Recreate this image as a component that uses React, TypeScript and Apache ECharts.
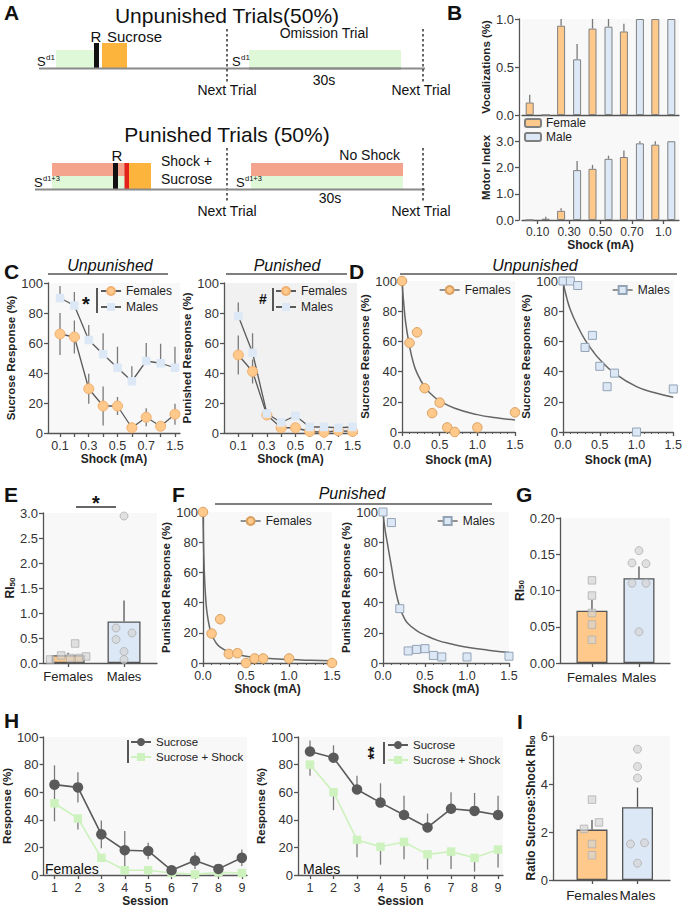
import React, { useEffect, useRef } from 'react';
import * as echarts from 'echarts';

// ---------------- DATA ----------------
const B_SHOCK = ['0.10', '0.30', '0.50', '0.70', '1.0'];
const B_VOC_F = [0.13, 0.93, 0.9, 0.87, 1.0];
const B_VOC_F_ERR = [0.08, 0.07, 0.1, 0.08, 0];
const B_VOC_M = [0, 0.58, 0.92, 1.0, 1.0];
const B_VOC_M_ERR = [0, 0.16, 0.08, 0, 0];
const B_MOT_F = [0, 0.35, 1.95, 2.4, 2.87];
const B_MOT_F_ERR = [0, 0.1, 0.15, 0.25, 0.13];
const B_MOT_M = [0.05, 1.9, 2.33, 2.92, 3.0];
const B_MOT_M_ERR = [0.07, 0.35, 0.12, 0.08, 0];

const C_SHOCK = ['0.1', '0.2', '0.3', '0.4', '0.5', '0.6', '0.7', '1.0', '1.5'];
const C_UNP_F = [66, 64, 29.5, 18, 18, 3.5, 10.5, 4.5, 12.5];
const C_UNP_F_ERR = [14, 11, 10, 13, 6, 2, 6, 3, 7];
const C_UNP_M = [90, 85, 62, 52.5, 43.5, 34.5, 48, 46.5, 43.5];
const C_UNP_M_ERR = [8, 9, 10, 14, 14, 10, 12, 13, 14];
const C_PUN_F = [52, 41, 12, 3.5, 3.5, 1, 0.5, 1.5, 1];
const C_PUN_F_ERR = [13, 8, 2, 1, 1, 0.5, 0.5, 1, 0.5];
const C_PUN_M = [78, 53.5, 13, 7, 11.5, 4, 4, 3.5, 4];
const C_PUN_M_ERR = [9, 13, 0, 0, 0, 0, 0, 0, 0];

const DF_DOSE = [0, 0.1, 0.2, 0.3, 0.4, 0.5, 0.6, 0.7, 1.0, 1.5];
const D_F = [100, 59, 66, 29, 12.5, 19.5, 3, 0, 3, 13];
const D_M = [100, 100, 97, 56, 64, 43.5, 30, 39, 0, 28.5];
const D_F_FIT_X = [0, 0.01, 0.02, 0.05, 0.1, 0.15, 0.2, 0.3, 0.4, 0.5, 0.7, 1.0, 1.25, 1.5];
const D_F_FIT_Y = [100, 93, 87, 72, 57, 46, 39, 30, 24.5, 20.6, 15.7, 11.5, 9.4, 8];
const D_M_FIT_X = [0, 0.02, 0.05, 0.1, 0.2, 0.3, 0.4, 0.5, 0.7, 1.0, 1.25, 1.5];
const D_M_FIT_Y = [100, 95, 89, 81, 70, 61, 54, 48, 39, 30, 26, 23];

const F_F = [100, 19.5, 29, 6, 6.5, 0, 3, 3, 3, 0];
const F_M = [100, 93, 36, 8, 9, 9.5, 5, 4, 4, 4.5];
const F_F_FIT_X = [0, 0.005, 0.01, 0.02, 0.035, 0.05, 0.075, 0.1, 0.15, 0.2, 0.3, 0.4, 0.5, 0.7, 1.0, 1.25, 1.5];
const F_F_FIT_Y = [100, 82, 70, 54, 40, 32, 24, 19, 13.5, 10.5, 7.3, 5.6, 4.5, 3.3, 2.3, 1.8, 1.5];
const F_M_FIT_X = [0, 0.02, 0.05, 0.1, 0.15, 0.2, 0.25, 0.3, 0.4, 0.5, 0.65, 0.8, 1.0, 1.25, 1.5];
const F_M_FIT_Y = [100, 90, 80, 64, 48, 37, 30, 26, 21.5, 18.5, 15, 12.8, 10.5, 8.5, 7];

const GROUPS = ['Females', 'Males'];
const E_MEAN = [0.155, 0.83];
const E_ERR = [0.05, 0.42];
const E_F_PTS = [0.07, 0.15, 0.1, 0.39, 0.1, 0.13];
const E_M_PTS = [2.94, 0.7, 0.6, 0.47, 0.23, 0.07];

const G_MEAN = [0.072, 0.117];
const G_ERR = [0.015, 0.016];
const G_F_PTS = [0.114, 0.093, 0.069, 0.053, 0.032];
const G_M_PTS = [0.155, 0.138, 0.137, 0.11, 0.11, 0.043];

const I_MEAN = [2.1, 3.03];
const I_ERR = [0.4, 0.82];
const I_F_PTS = [3.35, 2.4, 2.13, 1.5, 1.03];
const I_M_PTS = [5.45, 4.73, 4.25, 1.55, 1.5, 0.7];

const SESSIONS = [1, 2, 3, 4, 5, 6, 7, 8, 9];
const H_F_SUC = [65.5, 63.5, 29.5, 18, 17.5, 3.5, 10.5, 4.5, 12.5];
const H_F_SUC_ERR = [14, 11, 10, 14, 6, 2, 6, 3, 6];
const H_F_SHK = [52, 41, 12.5, 3.5, 3.5, 1.5, 0.5, 2, 1.5];
const H_F_SHK_ERR = [13, 8, 0, 0, 0, 0, 0, 0, 0];
const H_M_SUC = [89.5, 85, 62, 52.5, 43.5, 34.5, 48, 46.5, 43.5];
const H_M_SUC_ERR = [8, 9, 10, 14, 14, 10, 12, 13, 14];
const H_M_SHK = [80, 60, 25.5, 20.5, 24, 15, 17, 12.5, 18.5];
const H_M_SHK_ERR = [8, 13, 12.5, 13, 12.5, 11, 12.5, 10, 13];

// ---------------- STYLE ----------------
const FONT = '"Liberation Sans", Arial, Helvetica, sans-serif';
const AXC = '#555';
const LBL = '#333';
const ORANGE = '#FFC98B';
const ORANGE_B = '#F0B070';
const BLUE = '#DCE8F6';
const BLUE_B = '#93A3B6';
const GREEN = '#CDF2BE';
const DARK = '#5a5a5a';
const ERRC = '#7a7a7a';
const BG = '#F8F8F8';
const BG2 = '#F1F1F1';
const PT_FILL = 'rgba(212,212,212,0.85)';
const PT_BORDER = '#b0b0b0';
const TICK_Y = 13;
const TICK_X = 12.5;

// jitter offsets (px) for dot plots
const JIT_E_F = [-18, -7, 2, 7, 11, 18];
const JIT_E_M = [0, -8, 8, -8, 0, 0];
const JIT_G_F = [0, 0, 0, 0, 0];
const JIT_G_M = [0, -7, 7, -7, 7, 0];
const JIT_I_F = [0, 7, -8, 0, 0];
const JIT_I_M = [0, 0, 0, 7, -7, 0];

const LEG: Record<string, string> = {
  bmF: 'Female', bmM: 'Male', cuF: 'Females', cuM: 'Males', cpF: 'Females', cpM: 'Males',
  dF: 'Females', dM: 'Males', fF: 'Females', fM: 'Males',
  hfS: 'Sucrose', hfX: 'Sucrose + Shock', hmS: 'Sucrose', hmX: 'Sucrose + Shock',
};

const GRIDS = [
  { left: 522, top: 19, width: 157, height: 96, bg: BG }, // 0 B top
  { left: 522, top: 115, width: 157, height: 105, bg: BG }, // 1 B bottom
  { left: 48, top: 283, width: 132, height: 150, bg: BG }, // 2 C left
  { left: 224, top: 283, width: 133, height: 150, bg: BG2 }, // 3 C right
  { left: 402, top: 281, width: 113, height: 151, bg: BG }, // 4 D left
  { left: 563, top: 281, width: 114, height: 151, bg: BG }, // 5 D right
  { left: 43, top: 513, width: 114, height: 150, bg: BG }, // 6 E
  { left: 203, top: 512, width: 129, height: 151, bg: BG }, // 7 F left
  { left: 383, top: 512, width: 126, height: 151, bg: BG }, // 8 F right
  { left: 560, top: 518, width: 110, height: 145, bg: BG }, // 9 G
  { left: 42, top: 737, width: 205, height: 142, bg: BG }, // 10 H left
  { left: 298, top: 737, width: 205, height: 142, bg: BG }, // 11 H right
  { left: 553, top: 736, width: 117, height: 144, bg: BG }, // 12 I
];

const RICH = {
  m: { fontSize: 12, fontWeight: 'bold', color: '#222', fontFamily: FONT },
  s: { fontSize: 8, fontWeight: 'bold', color: '#222', fontFamily: FONT, verticalAlign: 'bottom', padding: [3, 0, 0, 0] },
};

function axisBase() {
  return {
    axisLine: { show: true, onZero: false, lineStyle: { color: AXC, width: 1.3 } },
    splitLine: { show: false },
  };
}

function yAx(grid: number, o: any) {
  return {
    type: 'value', gridIndex: grid, min: o.min, max: o.max, interval: o.interval,
    offset: o.offset || 0,
    name: o.name, nameLocation: 'middle', nameGap: o.gap, nameRotate: 90,
    nameTextStyle: { fontWeight: 'bold', fontSize: 11.5, color: '#222', fontFamily: FONT, rich: o.rich },
    ...axisBase(),
    axisTick: { show: true, length: 4, lineStyle: { color: AXC, width: 1.3 }, customValues: o.ticks },
    axisLabel: { color: LBL, fontSize: TICK_Y, margin: 5, fontFamily: FONT, formatter: o.fmt, customValues: o.ticks },
  };
}

function xAx(grid: number, o: any) {
  const ax: any = {
    type: o.type || 'value', gridIndex: grid, min: o.min, max: o.max, interval: o.interval,
    data: o.data,
    name: o.name, nameLocation: 'middle', nameGap: o.gap,
    nameTextStyle: { fontWeight: 'bold', fontSize: 12, color: '#222', fontFamily: FONT },
    ...axisBase(),
    axisTick: { show: o.tick !== false, length: 4, alignWithLabel: true, lineStyle: { color: AXC, width: 1.3 }, customValues: o.ticks },
    axisLabel: { show: o.label !== false, color: o.lblColor || LBL, fontSize: o.lblSize || TICK_X, margin: o.margin || 6, fontFamily: FONT, formatter: o.fmt, customValues: o.labels },
  };
  if (o.type === 'category') {
    ax.axisLabel.interval = 0;
    ax.axisTick.interval = 0;
  }
  if (o.minor) ax.minorTick = { show: true, splitNumber: 5, length: 2, lineStyle: { color: AXC, width: 1 } };
  return ax;
}

function errBars(grid: number, xs: number[], ys: number[], es: number[], mode: string, dx = 0, color = ERRC) {
  return {
    type: 'custom', xAxisIndex: grid, yAxisIndex: grid, z: 1, clip: false, silent: true,
    data: xs.map((x, i) => [x, ys[i], es[i]]),
    renderItem: (_p: any, api: any) => {
      const x = api.value(0), y = api.value(1), e = api.value(2);
      if (!e) return null;
      const lo = mode === 'up' ? y : Math.max(0, y - e);
      const hi = mode === 'down' ? y : y + e;
      const a = api.coord([x, lo]);
      const b = api.coord([x, hi]);
      return { type: 'line', shape: { x1: a[0] + dx, y1: a[1], x2: b[0] + dx, y2: b[1] }, style: { stroke: color, lineWidth: 1.3 } };
    },
  };
}

const idx = (arr: any[]) => arr.map((_, i) => i);
const pairs = (xs: number[], ys: number[]) => xs.map((x, i) => [x, ys[i]]);

function dotBars(grid: number, means: number[], errs: number[], fPts: number[], mPts: number[], jf: number[], jm: number[], barW: number) {
  return [
    {
      type: 'bar', xAxisIndex: grid, yAxisIndex: grid, barWidth: barW, z: 2, silent: true,
      data: [
        { value: [0, means[0]], itemStyle: { color: ORANGE } },
        { value: [1, means[1]], itemStyle: { color: BLUE } },
      ],
      itemStyle: { borderColor: '#555', borderWidth: 1.3 },
    },
    { ...errBars(grid, [0, 1], means, errs, 'up', 0, '#555'), z: 3 },
    {
      type: 'scatter', xAxisIndex: grid, yAxisIndex: grid, symbol: 'rect', symbolSize: 7.5, z: 4, clip: false, silent: true,
      itemStyle: { color: PT_FILL, borderColor: PT_BORDER, borderWidth: 1 },
      data: fPts.map((v, i) => ({ value: [0, v], symbolOffset: [jf[i], 0] })),
    },
    {
      type: 'scatter', xAxisIndex: grid, yAxisIndex: grid, symbol: 'circle', symbolSize: 8, z: 4, clip: false, silent: true,
      itemStyle: { color: PT_FILL, borderColor: PT_BORDER, borderWidth: 1 },
      data: mPts.map((v, i) => ({ value: [1, v], symbolOffset: [jm[i], 0] })),
    },
  ];
}

function lineSeries(name: string, grid: number, data: any[], o: any) {
  return {
    type: 'line', name, xAxisIndex: grid, yAxisIndex: grid, data, clip: false, silent: true,
    symbol: o.symbol, symbolSize: o.size, showSymbol: true, z: o.z || 3,
    itemStyle: { color: o.fill, borderColor: o.border || o.fill, borderWidth: o.border ? 1 : 0 },
    lineStyle: { color: o.line, width: o.lw ?? 1.3, opacity: o.lineOpacity ?? 1 },
  };
}

function fitCurve(grid: number, xs: number[], ys: number[]) {
  return {
    type: 'line', xAxisIndex: grid, yAxisIndex: grid, data: pairs(xs, ys), smooth: 0.5,
    showSymbol: false, symbol: 'none', z: 2, silent: true, clip: false,
    lineStyle: { color: '#666', width: 1.5 },
  };
}

// ---------------- GRAPHIC helpers ----------------
function T(x: number, y: number, text: string, o: any = {}) {
  return {
    type: 'text', x, y, silent: true, z: 100, rotation: o.rot || 0,
    style: {
      text, fill: o.fill || '#111', fontSize: o.size || 14, fontFamily: FONT,
      fontWeight: o.bold ? 'bold' : 'normal', fontStyle: o.italic ? 'italic' : 'normal',
      align: o.align || 'left', textAlign: o.align || 'left',
      verticalAlign: o.va || 'middle', textVerticalAlign: o.va || 'middle',
    },
  };
}
function R(x: number, y: number, w: number, h: number, fill: string) {
  return { type: 'rect', silent: true, z: 90, shape: { x, y, width: w, height: h }, style: { fill } };
}
function L(x1: number, y1: number, x2: number, y2: number, stroke = '#555', lw = 1.3, dash?: number[]) {
  return { type: 'line', silent: true, z: 95, shape: { x1, y1, x2, y2 }, style: { stroke, lineWidth: lw, lineDash: dash } };
}

const GREEN_A = '#DFF8D8';
const ORANGE_A = '#FDB43C';
const SALMON = '#F4A38C';

function panelA() {
  const dash = [2.5, 2.5];
  return [
    T(4, 12, 'A', { size: 21, bold: true }),
    T(227, 15, 'Unpunished Trials(50%)', { size: 21, align: 'center' }),
    R(56, 50, 39, 18.5, GREEN_A),
    R(102, 43, 25, 25.5, ORANGE_A),
    R(94, 43, 5, 25.5, '#111'),
    L(39, 68.5, 425, 68.5, '#8a8a8a', 2),
    T(96, 36, 'R', { size: 15, align: 'center' }),
    T(107, 36, 'Sucrose', { size: 15 }),
    T(37, 61, 'S', { size: 13 }), T(46, 57, 'd1', { size: 8 }),
    L(227, 29, 227, 82, '#333', 1.5, dash),
    T(227, 90, 'Next Trial', { size: 14, align: 'center' }),
    T(324, 33, 'Omission Trial', { size: 14, align: 'center' }),
    T(232, 61, 'S', { size: 13 }), T(241, 57, 'd1', { size: 8 }),
    R(249, 50, 152, 18.5, GREEN_A),
    L(249, 68.5, 401, 68.5, '#8a8a8a', 2),
    T(324, 80, '30s', { size: 14, align: 'center' }),
    L(423, 29, 423, 82, '#333', 1.5, dash),
    T(421, 90, 'Next Trial', { size: 14, align: 'center' }),

    T(227, 134, 'Punished Trials (50%)', { size: 21, align: 'center' }),
    R(52, 163, 99, 13, SALMON),
    R(52, 176, 99, 13, GREEN_A),
    R(129, 163, 22, 26, ORANGE_A),
    R(113, 163, 5, 26, '#111'),
    R(124.5, 163, 4.5, 26, '#E3221B'),
    T(117, 155, 'R', { size: 15, align: 'center' }),
    T(161, 161, 'Shock +', { size: 14 }),
    T(161, 179, 'Sucrose', { size: 14 }),
    T(34, 182, 'S', { size: 13 }), T(43, 178, 'd1+3', { size: 7.5 }),
    L(227, 148, 227, 202, '#333', 1.5, dash),
    T(227, 211, 'Next Trial', { size: 14, align: 'center' }),
    R(251, 163, 152, 13, SALMON),
    R(251, 176, 152, 13, GREEN_A),
    L(35, 189.5, 425, 189.5, '#8a8a8a', 2),
    T(400, 155, 'No Shock', { size: 14, align: 'right' }),
    T(236, 182, 'S', { size: 13 }), T(245, 178, 'd1+3', { size: 7.5 }),
    T(330, 198, '30s', { size: 14, align: 'center' }),
    L(423, 148, 423, 202, '#333', 1.5, dash),
    T(421, 211, 'Next Trial', { size: 14, align: 'center' }),
  ];
}

function annotations() {
  return [
    T(447, 12, 'B', { size: 21, bold: true }),
    T(4, 271, 'C', { size: 21, bold: true }),
    T(349, 271, 'D', { size: 21, bold: true }),
    T(4, 494, 'E', { size: 21, bold: true }),
    T(172, 494, 'F', { size: 21, bold: true }),
    T(516, 494, 'G', { size: 21, bold: true }),
    T(4, 720, 'H', { size: 21, bold: true }),
    T(517, 721, 'I', { size: 21, bold: true }),

    T(110, 265, 'Unpunished', { size: 16, italic: true, align: 'center' }),
    L(48, 274, 168, 274, '#555', 1.3),
    T(287, 265, 'Punished', { size: 16, italic: true, align: 'center' }),
    L(226, 274, 347, 274, '#555', 1.3),
    T(535, 265, 'Unpunished', { size: 16, italic: true, align: 'center' }),
    L(400, 274, 677, 274, '#555', 1.3),
    T(352, 493, 'Punished', { size: 16, italic: true, align: 'center' }),
    L(215, 504, 492, 504, '#555', 1.3),

    T(86, 304, '*', { size: 20, bold: true, align: 'center' }),
    L(97, 288, 97, 313, '#222', 1.5),
    T(263, 299, '#', { size: 14, bold: true, align: 'center' }),
    L(273, 288, 273, 311, '#222', 1.5),
    T(96, 503, '*', { size: 20, bold: true, align: 'center' }),
    L(76, 507, 116, 507, '#333', 1.5),
    L(128, 740, 128, 763, '#222', 1.5),
    T(374, 753, '**', { size: 17, bold: true, align: 'center', rot: Math.PI / 2 }),
    L(384, 742, 384, 764, '#222', 1.5),
    T(45, 869, 'Females', { size: 14 }),
    T(303, 869, 'Males', { size: 14 }),
  ];
}

function legendBox(names: string[], left: number, top: number, o: any = {}) {
  return {
    data: names, left, top, orient: 'vertical', selectedMode: false,
    itemWidth: o.w || 20, itemHeight: o.h || 10, itemGap: o.gap ?? 4, padding: 0,
    formatter: (n: string) => LEG[n] || n,
    textStyle: { fontSize: o.size || 12, color: '#222', fontFamily: FONT },
    ...(o.lineStyle ? { lineStyle: o.lineStyle } : {}),
  };
}

function buildOption(): any {
  const grids = GRIDS.map((g) => ({
    left: g.left, top: g.top, width: g.width, height: g.height, containLabel: false,
    show: true, backgroundColor: g.bg, borderWidth: 0,
  }));

  const f1 = (v: number) => v.toFixed(1);
  const f2 = (v: number) => v.toFixed(2);
  const grp = (v: number) => GROUPS[Math.round(v)] ?? '';

  const xAxis = [
    xAx(0, { type: 'category', data: B_SHOCK, label: false, tick: false }),
    xAx(1, { type: 'category', data: B_SHOCK, name: 'Shock (mA)', gap: 17, lblSize: 12 }),
    xAx(2, { min: -0.835, max: 8.35, ticks: idx(C_SHOCK), labels: [0, 2, 4, 6, 8], fmt: (v: number) => C_SHOCK[Math.round(v)], name: 'Shock (mA)', gap: 20 }),
    xAx(3, { min: -1, max: 8.31, ticks: idx(C_SHOCK), labels: [0, 2, 4, 6, 8], fmt: (v: number) => C_SHOCK[Math.round(v)], name: 'Shock (mA)', gap: 20 }),
    xAx(4, { min: 0, max: 1.5, interval: 0.5, fmt: f1, minor: true, name: 'Shock (mA)', gap: 22 }),
    xAx(5, { min: 0, max: 1.5, interval: 0.5, fmt: f1, minor: true, name: 'Shock (mA)', gap: 22 }),
    xAx(6, { min: -0.45, max: 1.59, ticks: [0, 1], labels: [0, 1], fmt: grp, lblSize: 13, lblColor: '#222', margin: 7 }),
    xAx(7, { min: 0, max: 1.5, interval: 0.5, fmt: f1, minor: true, name: 'Shock (mA)', gap: 20 }),
    xAx(8, { min: 0, max: 1.5, interval: 0.5, fmt: f1, minor: true, name: 'Shock (mA)', gap: 20 }),
    xAx(9, { min: -0.68, max: 1.66, ticks: [0, 1], labels: [0, 1], fmt: grp, lblSize: 13, lblColor: '#222', margin: 8 }),
    xAx(10, { min: 0.534, max: 9.22, ticks: SESSIONS, labels: SESSIONS, name: 'Session', gap: 18 }),
    xAx(11, { min: 0.49, max: 9.21, ticks: SESSIONS, labels: SESSIONS, name: 'Session', gap: 18 }),
    xAx(12, { min: -0.857, max: 1.714, ticks: [0, 1], labels: [0, 1], fmt: grp, lblSize: 13.5, lblColor: '#222', margin: 8 }),
  ];

  const yAxis = [
    yAx(0, { min: 0, max: 1, interval: 0.5, fmt: f1, name: 'Vocalizations (%)', gap: 26, offset: 3 }),
    yAx(1, { min: 0, max: 4, ticks: [0, 1, 2, 3], fmt: f1, name: 'Motor Index', gap: 26, offset: 3 }),
    yAx(2, { min: 0, max: 100, interval: 20, name: 'Sucrose Response (%)', gap: 24 }),
    yAx(3, { min: 0, max: 100, interval: 20, name: 'Punished Response (%)', gap: 21 }),
    yAx(4, { min: 0, max: 100, interval: 20, name: 'Sucrose Response (%)', gap: 26 }),
    yAx(5, { min: 0, max: 100, interval: 20, name: 'Sucrose Response (%)', gap: 25 }),
    yAx(6, { min: 0, max: 3, interval: 0.5, fmt: f1, name: '{m|RI}{s|50}', gap: 27, rich: RICH }),
    yAx(7, { min: 0, max: 100, interval: 20, name: 'Punished Response (%)', gap: 23 }),
    yAx(8, { min: 0, max: 100, interval: 20, name: 'Punished Response (%)', gap: 24 }),
    yAx(9, { min: 0, max: 0.2, interval: 0.05, fmt: f2, name: '{m|RI}{s|50}', gap: 34, rich: RICH }),
    yAx(10, { min: 0, max: 100, interval: 20, name: 'Response (%)', gap: 24 }),
    yAx(11, { min: 0, max: 100, interval: 20, name: 'Response (%)', gap: 20 }),
    yAx(12, { min: 0, max: 6, interval: 2, name: '{m|Ratio Sucrose:Shock RI}{s|50}', gap: 15, rich: RICH }),
  ];

  const barStyle = (c: string) => ({ color: c, borderColor: '#808080', borderWidth: 1 });
  const series: any[] = [
    // B
    { type: 'bar', name: 'bvF', xAxisIndex: 0, yAxisIndex: 0, data: B_VOC_F, barWidth: 8, barGap: '100%', itemStyle: barStyle(ORANGE), silent: true },
    { type: 'bar', name: 'bvM', xAxisIndex: 0, yAxisIndex: 0, data: B_VOC_M, barWidth: 8, barGap: '100%', itemStyle: barStyle(BLUE), silent: true },
    errBars(0, idx(B_SHOCK), B_VOC_F, B_VOC_F_ERR, 'up', -8),
    errBars(0, idx(B_SHOCK), B_VOC_M, B_VOC_M_ERR, 'up', 8),
    { type: 'bar', name: 'bmF', xAxisIndex: 1, yAxisIndex: 1, data: B_MOT_F, barWidth: 8, barGap: '100%', itemStyle: barStyle(ORANGE), silent: true },
    { type: 'bar', name: 'bmM', xAxisIndex: 1, yAxisIndex: 1, data: B_MOT_M, barWidth: 8, barGap: '100%', itemStyle: barStyle(BLUE), silent: true },
    errBars(1, idx(B_SHOCK), B_MOT_F, B_MOT_F_ERR, 'up', -8),
    errBars(1, idx(B_SHOCK), B_MOT_M, B_MOT_M_ERR, 'up', 8),

    // C
    errBars(2, idx(C_SHOCK), C_UNP_F, C_UNP_F_ERR, 'both'),
    errBars(2, idx(C_SHOCK), C_UNP_M, C_UNP_M_ERR, 'up'),
    lineSeries('cuF', 2, pairs(idx(C_SHOCK), C_UNP_F), { symbol: 'circle', size: 10, fill: ORANGE, border: ORANGE_B, line: DARK }),
    lineSeries('cuM', 2, pairs(idx(C_SHOCK), C_UNP_M), { symbol: 'rect', size: 8.5, fill: BLUE, line: DARK }),
    errBars(3, idx(C_SHOCK), C_PUN_F, C_PUN_F_ERR, 'both'),
    errBars(3, idx(C_SHOCK), C_PUN_M, C_PUN_M_ERR, 'up'),
    lineSeries('cpF', 3, pairs(idx(C_SHOCK), C_PUN_F), { symbol: 'circle', size: 10, fill: ORANGE, border: ORANGE_B, line: DARK }),
    lineSeries('cpM', 3, pairs(idx(C_SHOCK), C_PUN_M), { symbol: 'rect', size: 8.5, fill: BLUE, line: DARK }),

    // D
    fitCurve(4, D_F_FIT_X, D_F_FIT_Y),
    lineSeries('dF', 4, pairs(DF_DOSE, D_F), { symbol: 'circle', size: 9.5, fill: ORANGE, border: '#D9A060', line: DARK, lineOpacity: 0 }),
    fitCurve(5, D_M_FIT_X, D_M_FIT_Y),
    lineSeries('dM', 5, pairs(DF_DOSE, D_M), { symbol: 'rect', size: 8, fill: BLUE, border: BLUE_B, line: DARK, lineOpacity: 0 }),

    // E
    ...dotBars(6, E_MEAN, E_ERR, E_F_PTS, E_M_PTS, JIT_E_F, JIT_E_M, 33),

    // F
    fitCurve(7, F_F_FIT_X, F_F_FIT_Y),
    lineSeries('fF', 7, pairs(DF_DOSE, F_F), { symbol: 'circle', size: 9.5, fill: ORANGE, border: '#D9A060', line: DARK, lineOpacity: 0 }),
    fitCurve(8, F_M_FIT_X, F_M_FIT_Y),
    lineSeries('fM', 8, pairs(DF_DOSE, F_M), { symbol: 'rect', size: 8, fill: BLUE, border: BLUE_B, line: DARK, lineOpacity: 0 }),

    // G
    ...dotBars(9, G_MEAN, G_ERR, G_F_PTS, G_M_PTS, JIT_G_F, JIT_G_M, 31),

    // H
    errBars(10, SESSIONS, H_F_SUC, H_F_SUC_ERR, 'both'),
    errBars(10, SESSIONS, H_F_SHK, H_F_SHK_ERR, 'down'),
    lineSeries('hfX', 10, pairs(SESSIONS, H_F_SHK), { symbol: 'rect', size: 8.5, fill: GREEN, line: GREEN, lw: 1.6, z: 3 }),
    lineSeries('hfS', 10, pairs(SESSIONS, H_F_SUC), { symbol: 'circle', size: 10.5, fill: DARK, line: DARK, lw: 1.6, z: 4 }),
    errBars(11, SESSIONS, H_M_SUC, H_M_SUC_ERR, 'up'),
    errBars(11, SESSIONS, H_M_SHK, H_M_SHK_ERR, 'down'),
    lineSeries('hmX', 11, pairs(SESSIONS, H_M_SHK), { symbol: 'rect', size: 8.5, fill: GREEN, line: GREEN, lw: 1.6, z: 3 }),
    lineSeries('hmS', 11, pairs(SESSIONS, H_M_SUC), { symbol: 'circle', size: 10.5, fill: DARK, line: DARK, lw: 1.6, z: 4 }),

    // I
    ...dotBars(12, I_MEAN, I_ERR, I_F_PTS, I_M_PTS, JIT_I_F, JIT_I_M, 31),
  ];

  const legLine = { color: DARK, width: 1.3, opacity: 1 };
  const legend = [
    legendBox(['bmF', 'bmM'], 524, 117, { w: 16, h: 8, gap: 2 }),
    legendBox(['cuF', 'cuM'], 100, 285, { gap: 4 }),
    legendBox(['cpF', 'cpM'], 275, 285, { gap: 4 }),
    legendBox(['dF'], 439, 284, { lineStyle: legLine }),
    legendBox(['dM'], 612, 284, { lineStyle: legLine }),
    legendBox(['fF'], 240, 515, { lineStyle: legLine }),
    legendBox(['fM'], 437, 515, { lineStyle: legLine }),
    legendBox(['hfS', 'hfX'], 130, 736, { gap: 3, size: 11.5 }),
    legendBox(['hmS', 'hmX'], 387, 739, { gap: 3, size: 11.5 }),
  ];

  return {
    animation: false,
    backgroundColor: '#ffffff',
    textStyle: { fontFamily: FONT },
    grid: grids,
    xAxis,
    yAxis,
    series,
    legend,
    graphic: { elements: [...panelA(), ...annotations()] },
  };
}

export default function App() {
  const ref = useRef<HTMLDivElement>(null);
  useEffect(() => {
    if (!ref.current) return;
    const chart = echarts.init(ref.current, null, { renderer: 'svg', width: 685, height: 908 });
    chart.setOption(buildOption());
    return () => chart.dispose();
  }, []);
  return <div ref={ref} style={{ position: 'absolute', left: 0, top: 0, width: 685, height: 908, background: '#fff' }} />;
}
